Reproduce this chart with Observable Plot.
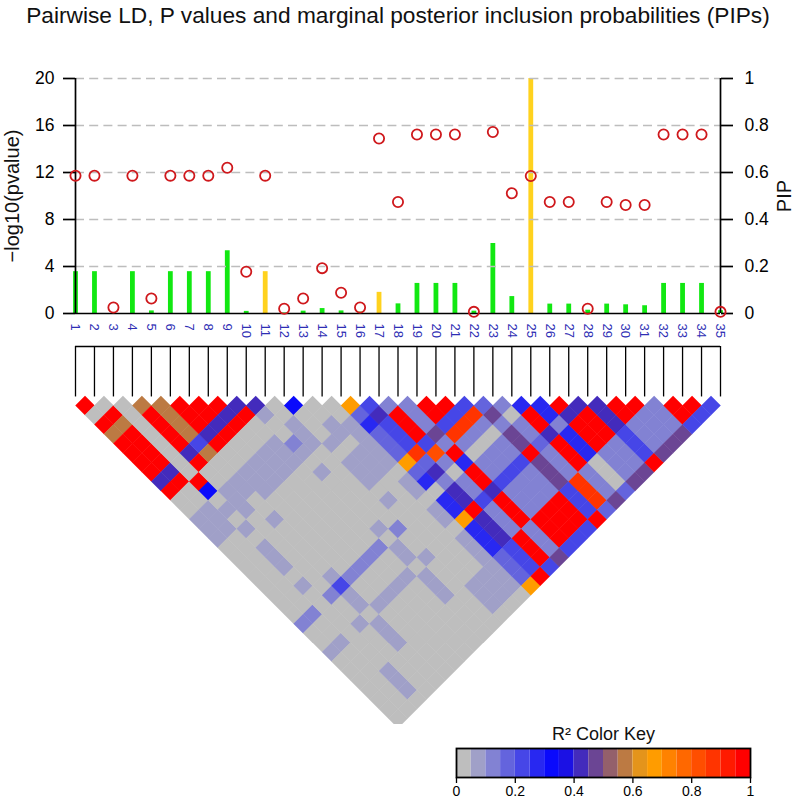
<!DOCTYPE html>
<html>
<head>
<meta charset="utf-8">
<script src="https://cdn.jsdelivr.net/npm/d3@7"></script>
<script src="https://cdn.jsdelivr.net/npm/@observablehq/plot@0.6"></script>
<style>
  html, body { margin: 0; padding: 0; background: #fff; overflow: hidden; }
  #page { position: relative; width: 799px; height: 802px; font-family: "Liberation Sans", Arial, sans-serif; }
  #title { position: absolute; left: 0; top: 2px; width: 796px; text-align: center; font-size: 22.7px; line-height: 26px; color: #111; white-space: nowrap; }
  #top, #ld, #key { position: absolute; left: 0; }
  #top { top: 40px; } #ld { top: 340px; } #key { top: 724px; }
  svg { display: block; }
</style>
</head>
<body>
<div id="page">
  <div id="title">Pairwise LD, P values and marginal posterior inclusion probabilities (PIPs)</div>
  <div id="top"></div>
  <div id="ld"></div>
  <div id="key"></div>
</div>
<script>
const titleFont = "Liberation Sans, Arial, sans-serif";
const snps = d3.range(1, 36);
const pValues = [11.73,11.73,0.51,11.73,1.28,11.73,11.73,11.73,12.41,3.55,11.73,0.4,1.28,3.86,1.76,0.51,14.9,9.49,15.23,15.23,15.23,0.14,15.45,10.23,11.7,9.49,9.49,0.4,9.49,9.23,9.23,15.23,15.23,15.23,0.14];
const pips = [0.178,0.178,0,0.178,0.011,0.178,0.178,0.178,0.267,0.009,0.178,0.002,0.01,0.021,0.011,0.006,0.09,0.041,0.128,0.128,0.128,0.01,0.298,0.072,1,0.04,0.04,0.014,0.04,0.037,0.033,0.128,0.128,0.128,0.012];
const goldSnps = [11, 17, 25];
const yTicks = [0, 4, 8, 12, 16, 20];
const gridTicks = [4, 8, 12, 16, 20];
const keyTicks = [0, 0.2, 0.4, 0.6, 0.8, 1];

// LD colour-bin codes (0-9, a-j = 20 bins of R²), one row per SNP, one column per SNP
const ldRows = [
  ".j0jb jjjj8 j0011 10000 00002 00100 00000",
  "..0jb jjjj8 j0011 10000 00002 00100 00000",
  "...00 00000 0j601 01011 10100 00000 01110",
  "....b jjjj8 j0011 10000 00002 00100 00000",
  "..... bbbb4 b0011 00100 00014 11011 10000",
  "..... .jjj8 j0011 10000 00002 00100 00000",
  "..... ..jj8 j0011 10000 00002 00100 00000",
  "..... ...j8 j0011 10000 00002 00100 00000",
  "..... ....8 j0011 10000 00002 00100 00000",
  "..... ..... 81002 10100 00010 11011 10000",
  "..... ..... .0011 10000 00002 00100 00000",
  "..... ..... ..600 01011 10100 00000 01110",
  "..... ..... ...00 11011 10000 00000 01110",
  "..... ..... ....0 01111 10110 11011 11110",
  "..... ..... ..... d3533 3d350 55d55 5333d",
  "..... ..... ..... .4844 4h382 88j88 8444j",
  "..... ..... ..... ..2jj j4g20 22422 2jjj4",
  "..... ..... ..... ...22 292j5 jj8jj j2229",
  "..... ..... ..... ....j j4h20 22422 2jjj4",
  "..... ..... ..... ..... j4h20 22422 2jjj4",
  "..... ..... ..... ..... .4h20 22422 2jjj4",
  "..... ..... ..... ..... ..392 99j99 9444j",
  "..... ..... ..... ..... ...20 22322 2hhh3",
  "..... ..... ..... ..... ....5 jj8jj j2229",
  "..... ..... ..... ..... ..... 55255 50003",
  "..... ..... ..... ..... ..... .j8jj j2229",
  "..... ..... ..... ..... ..... ..8jj j2229",
  "..... ..... ..... ..... ..... ...88 8444j",
  "..... ..... ..... ..... ..... ....j j2229",
  "..... ..... ..... ..... ..... ..... j2229",
  "..... ..... ..... ..... ..... ..... .2229",
  "..... ..... ..... ..... ..... ..... ..jj4",
  "..... ..... ..... ..... ..... ..... ...j4",
  "..... ..... ..... ..... ..... ..... ....4"
];

const binCount = 20;
const palette = d3.quantize(d3.piecewise(d3.interpolateRgb, ["#bebebe", "#0000ff", "#ffa500", "#ff0000"]), binCount);
const binEdges = d3.range(1, binCount).map(k => k / binCount);
const colorScale = {type: "threshold", domain: binEdges, range: palette};

const table = snps.map((snp, k) => ({snp, p: pValues[k], pip: pips[k]}));
const cells = ldRows.flatMap((row, a) => {
  const codes = row.replace(/ /g, "");
  return snps.filter(j => j > a + 1).map(j => ({
    i: a + 1, j,
    r2: (parseInt(codes[j - 1], 20) + 0.5) / binCount
  }));
});

const diamond = {
  draw(ctx, size) {
    const h = Math.sqrt(size / Math.PI);
    ctx.moveTo(0, -h); ctx.lineTo(h, 0); ctx.lineTo(0, h); ctx.lineTo(-h, 0); ctx.closePath();
  }
};

const topPlot = Plot.plot({
  width: 799, height: 300,
  marginLeft: 75, marginRight: 79, marginTop: 38, marginBottom: 27,
  style: {fontFamily: titleFont, background: "transparent", overflow: "visible"},
  x: {domain: [1, 35], axis: null},
  y: {domain: [0, 20], axis: null},
  marks: [
    Plot.ruleX(table.filter(d => !goldSnps.includes(d.snp)), {x: "snp", y1: 0, y2: d => d.pip * 20, stroke: "#12e812", strokeWidth: 4.8}),
    Plot.ruleX(table.filter(d => goldSnps.includes(d.snp)), {x: "snp", y1: 0, y2: d => d.pip * 20, stroke: "#ffd21e", strokeWidth: 4.8}),
    Plot.ruleY(gridTicks, {x1: 1, x2: 35, stroke: "#bdbdbd", strokeWidth: 1.5, strokeDasharray: "9,5.2"}),
    Plot.ruleX([1, 35], {y1: 0, y2: 20, stroke: "#000", strokeWidth: 1.7}),
    Plot.ruleY([0], {x1: 1, x2: 35, stroke: "#000", strokeWidth: 1.7}),
    Plot.axisY({anchor: "left", ticks: yTicks, tickSize: 12, tickPadding: 9, strokeWidth: 1.7, fontSize: 17.5, label: null, color: "#000", tickFormat: d => String(d)}),
    Plot.axisY({anchor: "right", ticks: yTicks, tickSize: 12, tickPadding: 12, strokeWidth: 1.7, fontSize: 17.5, label: null, color: "#000", tickFormat: d => String(+(d / 20).toFixed(1))}),
    Plot.text(table, {x: "snp", y: 0, text: d => String(d.snp), rotate: 90, textAnchor: "start", dy: 10, fontSize: 13, fill: "#2e2eb4"}),
    Plot.dot(table, {x: "snp", y: "p", r: 5.1, stroke: "#cf181c", strokeWidth: 1.8, fill: "none"}),
    Plot.text(["−log10(pvalue)"], {frameAnchor: "left", textAnchor: "middle", dx: -63, rotate: -90, fontSize: 20, fill: "#111"}),
    Plot.text(["PIP"], {frameAnchor: "right", textAnchor: "middle", dx: 64, rotate: -90, fontSize: 20, fill: "#111"})
  ]
});
document.getElementById("top").append(topPlot);

const ldPlot = Plot.plot({
  width: 799, height: 384,
  marginLeft: 75, marginRight: 79, marginTop: 6, marginBottom: 6,
  style: {background: "transparent"},
  x: {domain: [1, 35], axis: null},
  y: {domain: [-5.22, 34], reverse: true, axis: null},
  color: colorScale,
  marks: [
    Plot.dot(cells, {x: d => (d.i + d.j) / 2, y: d => d.j - d.i, fill: "r2", r: 9.75, symbol: diamond}),
    Plot.ruleY([-5.22], {x1: 1, x2: 35, stroke: "#000", strokeWidth: 1.4}),
    Plot.ruleX(snps, {x: d => d, y1: -5.22, y2: 0.1, stroke: "#000", strokeWidth: 1.3})
  ]
});
document.getElementById("ld").append(ldPlot);

const keyBins = d3.range(binCount).map(k => ({x1: k / binCount, x2: (k + 1) / binCount, mid: (k + 0.5) / binCount}));
const keyPlot = Plot.plot({
  width: 799, height: 78,
  marginLeft: 456, marginRight: 49, marginTop: 24, marginBottom: 25,
  style: {fontFamily: titleFont, background: "transparent", overflow: "visible"},
  x: {domain: [0, 1], axis: null},
  y: {axis: null},
  color: colorScale,
  marks: [
    Plot.rect(keyBins, {x1: "x1", x2: "x2", fill: "mid"}),
    Plot.frame({stroke: "#000", strokeWidth: 1.8}),
    Plot.axisX({anchor: "bottom", ticks: keyTicks, tickSize: 6, tickPadding: 3, strokeWidth: 1.3, fontSize: 14, label: null, color: "#000", tickFormat: d => String(d)}),
    Plot.text(["R² Color Key"], {frameAnchor: "top", dy: -21, fontSize: 18, fill: "#111"})
  ]
});
document.getElementById("key").append(keyPlot);
</script>
</body>
</html>
